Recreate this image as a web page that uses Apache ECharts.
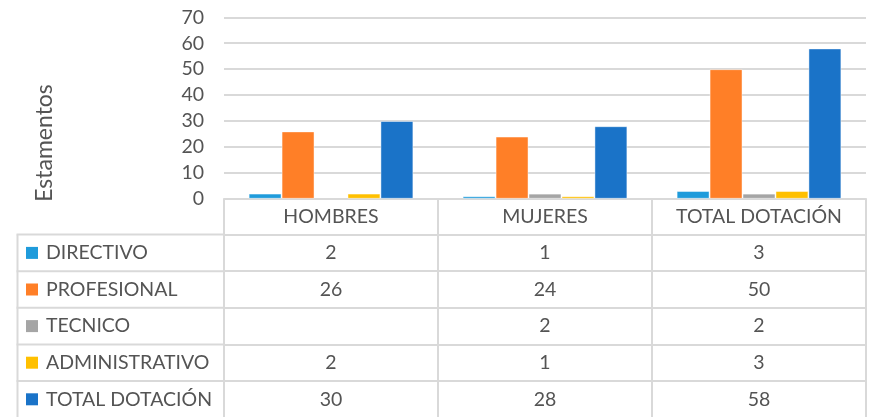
<!DOCTYPE html>
<html>
<head>
<meta charset="utf-8">
<script src="https://cdn.jsdelivr.net/npm/echarts@6/dist/echarts.min.js"></script>
<style>
    html, body {margin: 0; padding: 0; background: #fff;}
    #chart {width: 869px; height: 417px;}
</style>
</head>
<body>
<div id="chart"></div>
<script>
const categories = ['HOMBRES', 'MUJERES', 'TOTAL DOTACIÓN'];
const seriesNames = ['DIRECTIVO', 'PROFESIONAL', 'TECNICO', 'ADMINISTRATIVO', 'TOTAL DOTACIÓN'];
const directivo = [2, 1, 3];
const profesional = [26, 24, 50];
const tecnico = [null, 2, 2];
const administrativo = [2, 1, 3];
const totalDotacion = [30, 28, 58];
const yTicks = [0, 10, 20, 30, 40, 50, 60, 70];
const colors = ['#1f9bdb', '#ff7f27', '#a5a5a5', '#ffc000', '#1a73c8'];

const values = [directivo, profesional, tecnico, administrativo, totalDotacion];

// layout of plot + data table
const gridLeft = 224, gridRight = 3, gridTop = 17.3, axisY = 198.8;
const headerH = 35.8, rowH = 36.6, tableLeft = 17.5;
const textColor = '#545454', lineColor = '#d9d9d9', font = 'Lato';

const chart = echarts.init(document.getElementById('chart'));

const xAxes = [{
    type: 'category'
    , data: categories
    , position: 'bottom'
    , axisLine: {lineStyle: {color: lineColor, width: 2}}
    , axisTick: {show: true, interval: 0, length: headerH, lineStyle: {color: lineColor, width: 2}}
    , axisLabel: {
        interval: 0, hideOverlap: false
        , color: textColor, fontSize: 19.5, fontFamily: font, margin: headerH / 2, verticalAlign: 'middle'
    }
}];
values.forEach(function (row, k) {
    xAxes.push({
        type: 'category'
        , data: categories
        , position: 'bottom'
        , offset: headerH + k * rowH
        , axisLine: {lineStyle: {color: lineColor, width: 2}}
        , axisTick: {show: true, interval: 0, length: rowH, lineStyle: {color: lineColor, width: 2}}
        , axisLabel: {
            interval: 0, hideOverlap: false
            , color: textColor, fontSize: 19.5, fontFamily: font, margin: rowH / 2, verticalAlign: 'middle'
            , formatter: function (v, i) {
                return row[i] == null ? '' : String(row[i]);
            }
        }
    });
});

// left column of the data table (legend keys)
const graphics = [{
    type: 'text'
    , x: 45, y: 143
    , rotation: Math.PI / 2
    , style: {text: 'Estamentos', fill: textColor, font: '23px ' + font, align: 'center', verticalAlign: 'middle'}
}, {
    type: 'line'
    , shape: {x1: tableLeft, y1: axisY + headerH, x2: tableLeft, y2: 417}
    , style: {stroke: lineColor, lineWidth: 2}
}];
seriesNames.forEach(function (name, k) {
    const top = axisY + headerH + k * rowH;
    graphics.push({
        type: 'line'
        , shape: {x1: tableLeft - 1, y1: top, x2: gridLeft, y2: top}
        , style: {stroke: lineColor, lineWidth: 2}
    });
    graphics.push({
        type: 'rect'
        , shape: {x: 26, y: top + rowH / 2 - 6, width: 12, height: 12}
        , style: {fill: colors[k]}
    });
    graphics.push({
        type: 'text'
        , x: 46, y: top + rowH / 2
        , style: {text: name, fill: textColor, font: '19.5px ' + font, align: 'left', verticalAlign: 'middle'}
    });
});

chart.setOption({
    animation: false
    , color: colors
    , textStyle: {fontFamily: font}
    , grid: {left: gridLeft, right: gridRight, top: gridTop, bottom: 417 - axisY, containLabel: false}
    , xAxis: xAxes
    , yAxis: {
        type: 'value'
        , min: yTicks[0]
        , max: yTicks[yTicks.length - 1]
        , interval: 10
        , axisLine: {show: false}
        , axisTick: {show: false}
        , axisLabel: {color: textColor, fontSize: 19.5, fontFamily: font, margin: 20}
        , splitLine: {lineStyle: {color: lineColor, width: 2}}
    }
    , graphic: graphics
    , series: seriesNames.map(function (name, k) {
        return {
            name: name
            , type: 'bar'
            , xAxisIndex: 0
            , data: values[k]
            , barGap: '0%'
            , barCategoryGap: '23%'
            , itemStyle: {color: colors[k], borderColor: 'rgba(255,255,255,0.45)', borderWidth: 1}
        };
    })
});
</script>
</body>
</html>
